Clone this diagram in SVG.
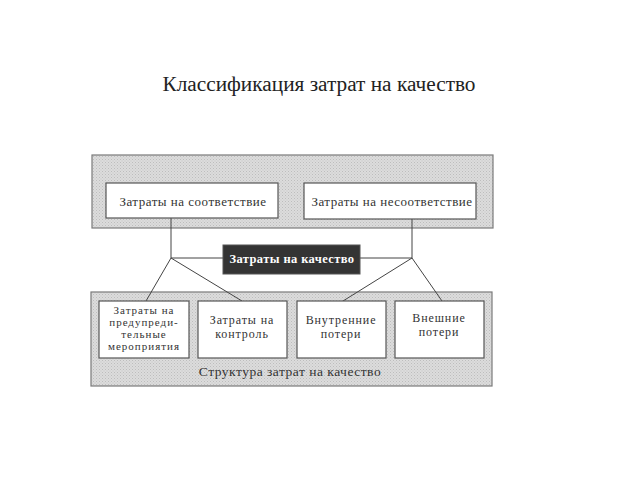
<svg xmlns="http://www.w3.org/2000/svg" width="640" height="480" viewBox="0 0 640 480">
<defs>
<pattern id="dots" width="3" height="3" patternUnits="userSpaceOnUse">
<rect width="3" height="3" fill="#dcdcdc"/>
<rect width="1" height="1" fill="#bdbdbd"/>
<rect x="1.5" y="1.5" width="1" height="1" fill="#c4c4c4"/>
</pattern>
</defs>
<style>
.panel{fill:url(#dots);stroke:#7a7a7a;stroke-width:1.2}
.box{fill:#fff;stroke:#555;stroke-width:1.2}
.t{font-family:"Liberation Serif",serif;font-size:13px;letter-spacing:0.5px;fill:#333;text-anchor:middle}
.tm{font-family:"Liberation Serif",serif;font-size:12px;letter-spacing:0.9px;fill:#333;text-anchor:middle}
.ts{font-family:"Liberation Serif",serif;font-size:11px;letter-spacing:1px;fill:#333;text-anchor:middle}
.conn{stroke:#444;stroke-width:1;fill:none}
</style>
<rect width="640" height="480" fill="#fff"/>
<text x="319" y="91" font-family="Liberation Serif, serif" font-size="21.3" fill="#222" text-anchor="middle">Классификация затрат на качество</text>

<g id="panel-top"><rect class="panel" x="92" y="155" width="401" height="73"/></g>
<g id="panel-bottom"><rect class="panel" x="91" y="292" width="401" height="94"/>
<text class="t" x="290" y="376" style="font-size:13.5px">Структура затрат на качество</text></g>

<g id="connectors">
<polyline class="conn" points="171,218 171,258 223,258"/>
<polyline class="conn" points="412,219 412,258 360,258"/>
<line class="conn" x1="171" y1="258" x2="146" y2="301"/>
<line class="conn" x1="171" y1="258" x2="242" y2="301"/>
<line class="conn" x1="412" y1="258" x2="343" y2="301"/>
<line class="conn" x1="412" y1="258" x2="442" y2="301"/>
</g>

<g id="n-conform"><rect class="box" x="106" y="183" width="172" height="35"/>
<text class="t" x="193" y="206">Затраты на соответствие</text></g>
<g id="n-nonconform"><rect class="box" x="304" y="183" width="172" height="36"/>
<text class="t" x="392" y="206">Затраты на несоответствие</text></g>
<g id="n-quality"><rect x="223" y="245" width="137" height="29" fill="#343434" stroke="#555"/>
<text x="292" y="263" font-family="Liberation Serif, serif" font-size="12.5" letter-spacing="0.4" font-weight="bold" fill="#fff" text-anchor="middle">Затраты на качество</text></g>

<g id="n-prevent"><rect class="box" x="99" y="301" width="90" height="57"/>
<text class="ts" x="144" y="314">Затраты на</text>
<text class="ts" x="144" y="326">предупреди-</text>
<text class="ts" x="144" y="338">тельные</text>
<text class="ts" x="144" y="350">мероприятия</text></g>
<g id="n-control"><rect class="box" x="198" y="301" width="89" height="57"/>
<text class="tm" x="242" y="324">Затраты на</text>
<text class="tm" x="242" y="337.5">контроль</text></g>
<g id="n-internal"><rect class="box" x="297" y="301" width="89" height="57"/>
<text class="tm" x="341" y="324">Внутренние</text>
<text class="tm" x="341" y="337.5">потери</text></g>
<g id="n-external"><rect class="box" x="395" y="301" width="89" height="57"/>
<text class="tm" x="439" y="322">Внешние</text>
<text class="tm" x="439" y="335.5">потери</text></g>
</svg>
